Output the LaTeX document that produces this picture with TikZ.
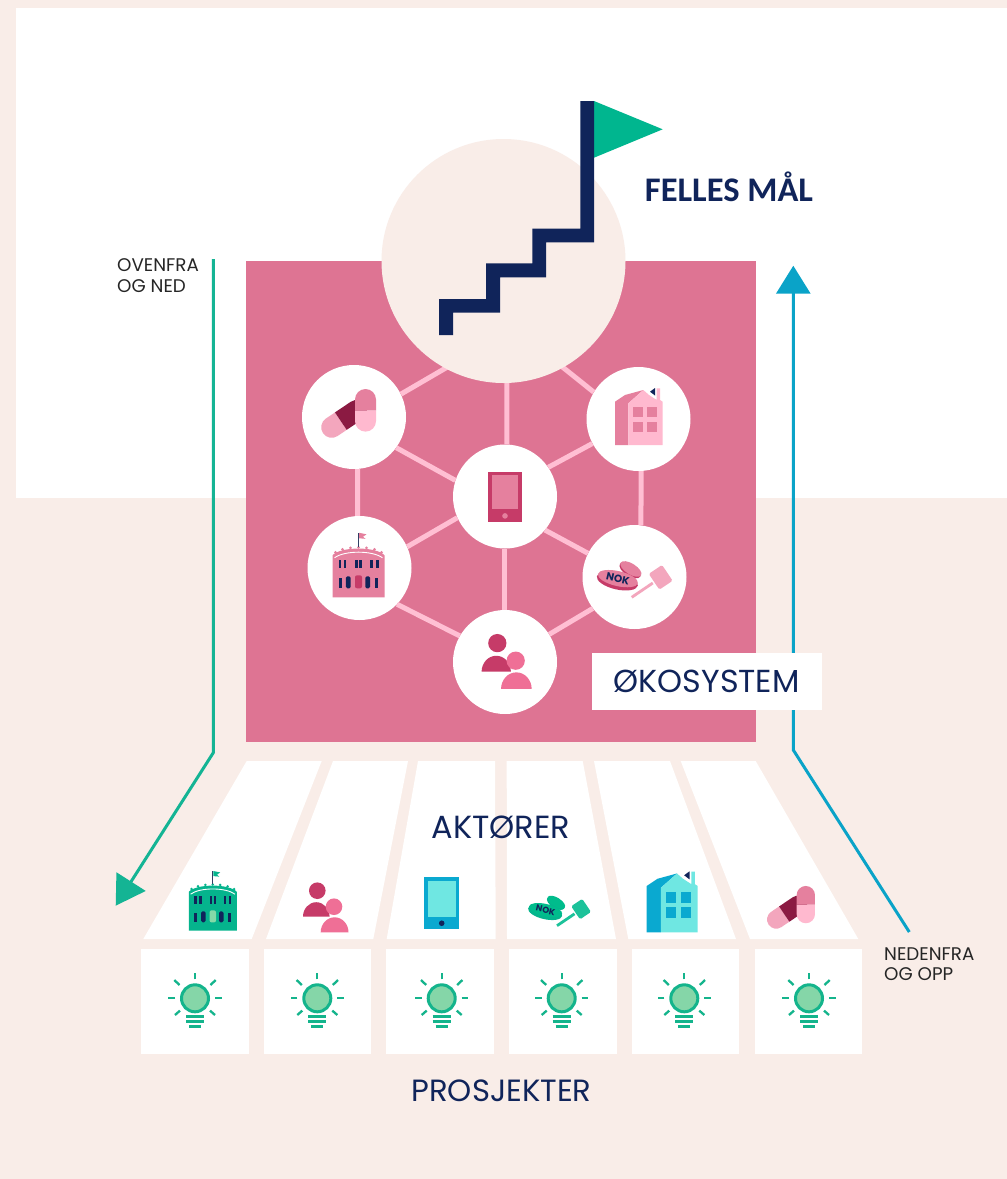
\documentclass[tikz,border=0pt]{standalone}
\usepackage{fontspec}
\setmainfont{Poppins}
\newfontfamily\capfont{Carlito}
\usetikzlibrary{arrows.meta}
\definecolor{bgcream}{HTML}{F9EDE8}
\definecolor{rosebox}{HTML}{DE7493}
\definecolor{linkpink}{HTML}{FFBFD3}
\definecolor{navy}{HTML}{10245A}
\definecolor{flaggreen}{HTML}{00B68F}
\definecolor{arrowgreen}{HTML}{14B494}
\definecolor{arrowblue}{HTML}{0AA3C8}
\definecolor{bulbfill}{HTML}{85D6A8}
\definecolor{bulbline}{HTML}{14B48C}
\definecolor{rmid}{HTML}{E5809E}
\definecolor{rdark}{HTML}{C63B68}
\definecolor{rlight}{HTML}{FFB9CF}
\definecolor{rfront}{HTML}{EF6F96}
\definecolor{rsoft}{HTML}{F3A6BD}
\definecolor{wine}{HTML}{8B1A42}
\definecolor{gbody}{HTML}{05B48D}
\definecolor{gsoft}{HTML}{85D9A8}
\definecolor{gcoin}{HTML}{00BC8C}
\definecolor{gham}{HTML}{1CC29A}
\definecolor{bdeep}{HTML}{0AA9D0}
\definecolor{bpale}{HTML}{6FE7E2}
\tikzset{
  x=1pt,y=1pt,
  hubdot/.style={circle,fill=white,inner sep=0pt,minimum size=104pt},
  goaldot/.style={circle,fill=bgcream,inner sep=0pt,minimum size=244pt},
  hublink/.style={linkpink,line width=5pt},
  flow/.style={line width=3pt},
  tile/.style={fill=white,draw=none},
  heading/.style={navy,anchor=base,inner sep=0pt},
  small/.style={text=black!85,anchor=north west,inner sep=0pt,align=left,font=\fontsize{18.3}{20.5}\selectfont}
}
\newcommand{\iconcastle}[8]{% x y scale body window door pole flag
\begin{scope}[shift={(#1,-#2)},scale=#3]
  \fill[#4] (-26,0)--(26,0)--(26,42) .. controls (18,51) and (-18,51) .. (-26,42)--cycle;
  \foreach \bx/\by in {-23/45,-16/48,-8/49.5,0/50,8/49.5,16/48,23/45}{\fill[#4] (\bx,\by) circle[radius=1.5pt];}
  \draw[white,line width=.9pt] (-24,39.5) .. controls (-14,47) and (14,47) .. (24,39.5);
  \foreach \wx in {-18.5,-13.5,-1.8,2.2,13.2,18.8}{\fill[#5] (\wx-1.3,29) rectangle (\wx+1.3,37);}
  \foreach \wx in {-18.5,18.2}{\fill[#5] (\wx-1.5,9) rectangle (\wx+1.5,19);}
  \foreach \wx in {-10.2,9.2}{\fill[#5,rounded corners=1.5pt] (\wx-2.4,9) rectangle (\wx+2.4,21);}
  \fill[#6,rounded corners=2pt] (-3.5,9) rectangle (3.5,22);
  \draw[#7,line width=1.1pt] (0,50) -- (0,64.5);
  \fill[#8] (.6,64.5)--(8,63)--(4.5,60.5)--(7,58.5)--(.6,59)--cycle;
\end{scope}}
\newcommand{\iconpeople}[5]{% x y scale back front
\begin{scope}[shift={(#1,-#2)},scale=#3]
  \fill[#4] (-16.7,16) circle[radius=8.3pt];
  \fill[#4] (-31,-10) arc[start angle=180,end angle=0,x radius=13.3pt,y radius=14.5pt] -- cycle;
  \fill[#5] (0,0) circle[radius=8.3pt];
  \fill[#5] (-13.3,-25.6) arc[start angle=180,end angle=0,x radius=13.9pt,y radius=15pt] -- cycle;
\end{scope}}
\newcommand{\iconphone}[7]{% cx cy w h outer screen button
\begin{scope}[shift={(#1,-#2)}]
  \fill[#5] (-#3/2,-#4/2) rectangle (#3/2,#4/2);
  \fill[#6] (-#3/2+3.3,-#4/2+12.5) rectangle (#3/2-3.3,#4/2-3.3);
  \fill[#7] (0,-#4/2+5.8) circle[radius=2.8pt];
\end{scope}}
\newcommand{\iconnok}[7]{% x y scale coinedge cointop hammer handle
\begin{scope}[shift={(#1,-#2)},scale=#3]
  \begin{scope}[shift={(12.9,9.7)},rotate=-32]
    \fill[#4] (0,-1) circle[x radius=12pt,y radius=6pt];
    \fill[#5] (0,.4) circle[x radius=12pt,y radius=5.4pt];
  \end{scope}
  \begin{scope}[rotate=-13]
    \fill[#4] (0,-2) circle[x radius=21pt,y radius=8.5pt];
    \fill[#5] (0,.4) circle[x radius=20.5pt,y radius=7.5pt];
    \node[navy,inner sep=0pt,transform shape] (nokmark) at (0,.4) {\fontsize{10.5}{11}\selectfont\bfseries NOK};
  \end{scope}
  \draw[#7,line width=2.8pt] (13.9,-18.3) -- (35,-4);
  \begin{scope}[shift={(42.9,1.7)},rotate=34]
    \fill[#6,rounded corners=1.5pt] (-8,-9.5) rectangle (8,9.5);
  \end{scope}
\end{scope}}
\newcommand{\iconhouse}[7]{% x y scale wall front window mark
\begin{scope}[shift={(#1,-#2)},scale=#3]
  \fill[#4] (0,0)--(0,43.3)--(10,50)--(28.3,55)--(13.3,41.7)--(13.3,0)--cycle;
  \fill[#5] (13.3,0)--(13.3,41.7)--(28.3,55)--(34,50)--(41.7,45)--(41.7,56.7)--(45,56.7)--(45,45)--(47.7,43.3)--(47.7,0)--cycle;
  \fill[#7] (35,53.3)--(40,57)--(40,49.5)--cycle;
  \foreach \hx in {17.7,31.7}{\foreach \hy in {13.3,27.7}{\fill[#6] (\hx,\hy) rectangle (\hx+9.8,\hy+10);}}
\end{scope}}
\newcommand{\iconpill}[3]{% x y scale
\begin{scope}[shift={(#1,-#2)},scale=#3]
  \begin{scope}[shift={(-33.8,-17)},rotate=34]
    \fill[rsoft] (11,10.5)--(0,10.5) arc[start angle=90,end angle=270,radius=10.5pt]--(11,-10.5)--cycle;
    \fill[wine] (11,-10.5)--(30,-10.5) arc[start angle=-90,end angle=90,radius=10.5pt]--(11,10.5)--cycle;
  \end{scope}
  \fill[rlight] (-10.5,0)--(-10.5,-10.8) arc[start angle=180,end angle=360,radius=10.5pt]--(10.5,0)--cycle;
  \fill[rmid] (-10.5,0)--(-10.5,10.8) arc[start angle=180,end angle=0,radius=10.5pt]--(10.5,0)--cycle;
\end{scope}}
\newcommand{\iconbulb}[2]{% cx cy
\begin{scope}[shift={(#1,-#2)},bulbline,line width=2.3pt]
  \draw[fill=bulbfill,line width=3pt] (0,0) circle[radius=13.5pt];
  \draw (0,19)--(0,25);
  \draw (20,0)--(26.7,0); \draw (-20,0)--(-26.7,0);
  \draw (15.5,13.3)--(20.7,18.3); \draw (-15.5,13.3)--(-20.7,18.3);
  \draw (15,-12.3)--(20,-16.7); \draw (-15,-12.3)--(-20,-16.7);
  \draw (-9,-18.3)--(9,-18.3); \draw (-9,-23.3)--(9,-23.3); \draw (-6,-28.3)--(6,-28.3);
\end{scope}}
\begin{document}
\begin{tikzpicture}
\useasboundingbox (0,0) rectangle (1007,-1179);
\fill[bgcream] (0,0) rectangle (1007,-1179);
\fill[white] (16,-8) rectangle (1007,-498);
\fill[rosebox] (246,-261) rectangle (756,-742);
% flows
\coordinate (gstart) at (213.3,-259);
\coordinate (gbend) at (213.3,-752.7);
\coordinate (gtip) at (115.7,-905.7);
\draw[flow,arrowgreen,-{Triangle[length=28.6pt,width=34pt]}] (gstart) -- (gbend) -- (gtip);
\coordinate (bstart) at (909.3,-932);
\coordinate (bbend) at (793.3,-750);
\coordinate (btip) at (793.3,-265.7);
\draw[flow,arrowblue,-{Triangle[length=28pt,width=34pt]}] (bstart) -- (bbend) -- (btip);
% hub nodes
\node[hubdot] (pill) at (354,-417) {};
\node[hubdot] (house) at (638.5,-419) {};
\node[hubdot] (phone) at (505,-496.5) {};
\node[hubdot] (castle) at (359.5,-568) {};
\node[hubdot] (nok) at (634.5,-577) {};
\node[hubdot] (people) at (505,-662) {};
\coordinate (topL) at (460,-359.7);
\coordinate (topM) at (506.7,-340);
\coordinate (topR) at (540,-349);
\draw[hublink] (pill.26) -- (topL);
\draw[hublink] (house.149) -- (topR);
\draw[hublink] (phone.88) -- (topM);
\draw[hublink] (pill.-36) -- (phone.162);
\draw[hublink] (house.208) -- (phone.34);
\draw[hublink] (pill.-86) -- (castle.92);
\draw[hublink] (house.-87) -- (nok.83);
\draw[hublink] (castle.24) -- (phone.204);
\draw[hublink] (nok.153) -- (phone.-40);
\draw[hublink] (castle.-44) -- (people.150);
\draw[hublink] (nok.217) -- (people.32);
\draw[hublink] (phone.-91) -- (people.91);
\node[goaldot] (goal) at (503.5,-261) {};
% stairs and flag
\fill[flaggreen] (594,-101)--(662.7,-129.3)--(594,-157.7)--cycle;
\fill[navy] (439,-335)--(439,-299)--(486,-299)--(486,-263.3)--(532.3,-263.3)--(532.3,-228.7)--(580.3,-228.7)--(580.3,-101)--(594,-101)--(594,-242.3)--(546,-242.3)--(546,-277.3)--(500,-277.3)--(500,-312.7)--(453,-312.7)--(453,-335)--cycle;
% hub icons
\iconpill{365.5}{410.3}{1}
\iconhouse{615}{445}{1}{rmid}{rlight}{rmid}{navy}
\iconphone{505}{496.7}{33.4}{50}{rdark}{rmid}{rmid}
\iconcastle{358.5}{597.3}{1}{rmid}{navy}{rdark}{navy!70!gray}{rmid}
\iconnok{617.8}{579}{1}{rdark}{rmid}{rsoft}{rsoft}
\iconpeople{515.7}{660.7}{1.1}{rdark}{rfront}
% labels
\node[heading,font=\capfont\bfseries\fontsize{34.5}{36}\selectfont] (mal) at (729,-201) {FELLES MÅL};
\node[fill=white,minimum width=230pt,minimum height=56.7pt,inner sep=0pt,text=navy,font=\fontsize{31.8}{34}\selectfont] (oko) at (706.7,-681.6) {ØKOSYSTEM};
\node[small] (ned) at (117,-258.5) {OVENFRA\\OG NED};
\node[small] (opp) at (884,-947.5) {NEDENFRA\\OG OPP};
% actor tiles
\fill[tile] (246.7,-761)--(321.7,-761)--(251.7,-939)--(143.3,-939)--cycle;
\fill[tile] (333,-761)--(408,-761)--(373.3,-939)--(266,-939)--cycle;
\fill[tile] (418,-761)--(495,-761)--(495.7,-939)--(386.7,-939)--cycle;
\fill[tile] (506.7,-761)--(582.7,-761)--(616,-939)--(507,-939)--cycle;
\fill[tile] (594,-761)--(670,-761)--(736,-939)--(628.3,-939)--cycle;
\fill[tile] (680.7,-761)--(755.7,-761)--(858.3,-939)--(750,-939)--cycle;
\node[heading,font=\fontsize{32}{34}\selectfont] (akt) at (501,-838) {AKTØRER};
% project tiles
\foreach \ax/\bx in {140.7/249,264/371,386/494,509.3/616.7,631.7/739,755/862.3}{\fill[tile] (\ax,-949.3) rectangle (\bx,-1054);}
\foreach \cx in {195,317.3,441.7,561.7,684.3,809}{\iconbulb{\cx}{998.3}}
% actor icons
\iconcastle{212.8}{930.7}{.925}{gbody}{navy}{gsoft}{navy!70!gray}{gbody}
\iconpeople{334}{906.7}{1}{rdark}{rfront}
\iconphone{441.7}{903.2}{35}{51.7}{bdeep}{bpale}{navy}
\iconnok{545.5}{910.5}{.83}{gbody}{gcoin}{gham}{gham}
\iconhouse{646.7}{932.3}{1.07}{bdeep}{bpale}{bdeep}{navy}
\iconpill{805.8}{904.6}{.875}
\node[heading,font=\fontsize{30.7}{33}\selectfont] (pro) at (501.5,-1101) {PROSJEKTER};
\end{tikzpicture}
\end{document}
